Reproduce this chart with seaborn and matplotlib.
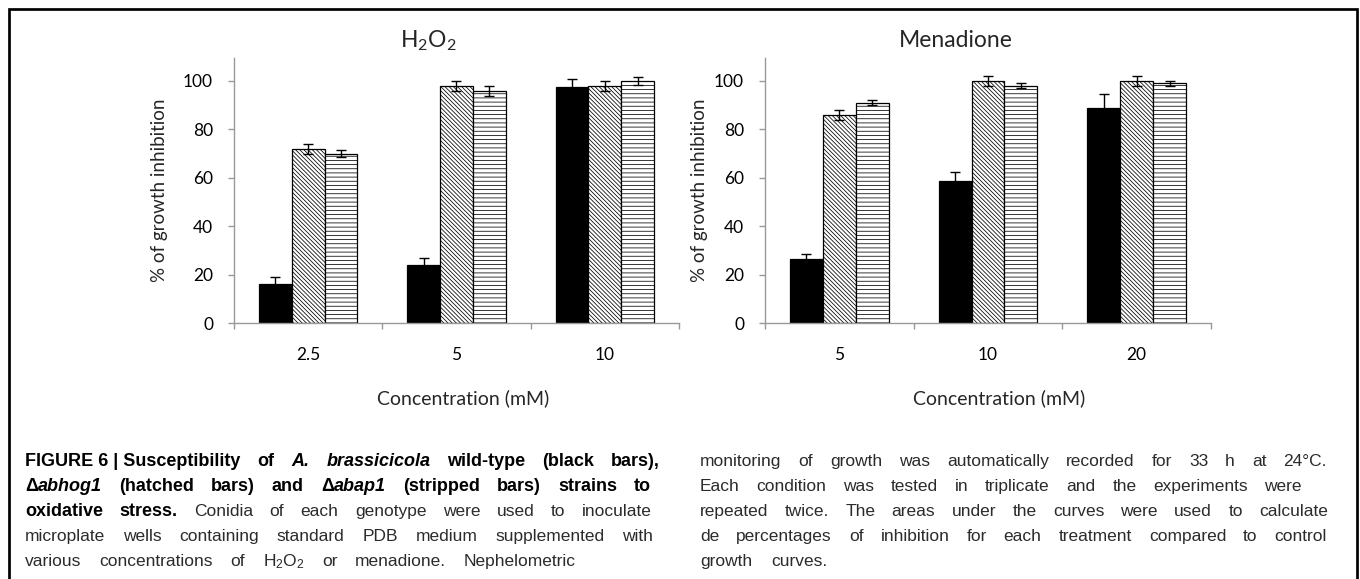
import numpy as np
import pandas as pd
import seaborn as sns
import matplotlib.pyplot as plt
from matplotlib.lines import Line2D

W, H = 1360, 579

strains = ["wild-type", "Δabhog1", "Δabap1"]

h2o2_conc = ["2.5", "5", "10"]
h2o2_wt = [16, 24, 97.5]
h2o2_hog1 = [72, 98, 98]
h2o2_bap1 = [70, 96, 100]
h2o2_wt_err = [3, 3, 3.3]
h2o2_hog1_err = [2, 2, 2]
h2o2_bap1_err = [1.3, 2, 1.5]

men_conc = ["5", "10", "20"]
men_wt = [26.6, 58.5, 89]
men_hog1 = [86, 100, 100]
men_bap1 = [91, 98, 99]
men_wt_err = [2, 4, 5.5]
men_hog1_err = [2, 2, 2]
men_bap1_err = [1, 1, 1]

caption_left = [
    [("FIGURE\u00a06\u00a0|\u00a0Susceptibility of ", "b"), ("A. brassicicola", "bi"),
     (" wild-type (black bars),", "b")],
    [("Δ", "b"), ("abhog1", "bi"), (" (hatched bars) and Δ", "b"), ("abap1", "bi"),
     (" (stripped bars) strains to", "b")],
    [("oxidative stress.", "b"), (" Conidia of each genotype were used to inoculate", "n")],
    [("microplate wells containing standard PDB medium supplemented with", "n")],
    [("various concentrations of H$_2$O$_2$ or menadione. Nephelometric", "n")],
]
caption_right = [
    [("monitoring of growth was automatically recorded for 33 h at 24°C.", "n")],
    [("Each condition was tested in triplicate and the experiments were", "n")],
    [("repeated twice. The areas under the curves were used to calculate", "n")],
    [("de percentages of inhibition for each treatment compared to control", "n")],
    [("growth curves.", "n")],
]
left_ends = [660, 651, 652, 653, 576]
right_ends = [1327, 1302, 1328, 1327, 828]

sns.set_theme(style="white")
plt.rcParams["font.family"] = ["Lato", "DejaVu Sans"]
plt.rcParams["mathtext.default"] = "regular"
plt.rcParams["hatch.linewidth"] = 0.55

GRAY = "#999999"
CAPTION_FONT = ["Liberation Sans", "DejaVu Sans"]
STYLES = {
    "b": dict(weight="bold", color="black", fontsize=13),
    "bi": dict(weight="bold", style="italic", color="black", fontsize=13),
    "n": dict(color="#2b2b2b", fontsize=12.5),
}


def px(x, y):
    return x / W, 1 - y / H


def panel(ax, conc, series, errs):
    rows = []
    for strain, vals in zip(strains, series):
        for c, v in zip(conc, vals):
            rows.append((c, strain, v))
    df = pd.DataFrame(rows, columns=["conc", "strain", "value"])

    sns.barplot(data=df, x="conc", y="value", hue="strain", order=conc,
                hue_order=strains, palette=["black", "white", "white"],
                saturation=1, width=0.665, edgecolor="black", linewidth=0.9,
                errorbar=None, legend=False, ax=ax)

    hatches = [None, "\\" * 8, "----"]
    for cont, hatch, vals, err in zip(ax.containers, hatches, series, errs):
        xs = []
        for bar in cont:
            if hatch:
                bar.set_hatch(hatch)
            xs.append(bar.get_x() + bar.get_width() / 2)
        ax.errorbar(xs, vals, yerr=err, fmt="none", ecolor="black",
                    elinewidth=1, capsize=3.8, capthick=1, zorder=5)

    ax.set_xlim(-0.5, 2.5)
    ax.set_ylim(0, 109.5)
    ax.set_yticks(range(0, 101, 20))
    ax.set_xticks([-0.5, 0.5, 1.5, 2.5], minor=True)
    ax.tick_params(axis="x", which="major", bottom=True, length=0, pad=17,
                   labelsize=12.5, labelcolor="black")
    ax.tick_params(axis="x", which="minor", bottom=True, length=4.3, width=1,
                   color=GRAY, direction="out")
    ax.tick_params(axis="y", left=True, length=4.3, width=1, color=GRAY,
                   direction="out", pad=10.8, labelsize=12.5, labelcolor="black")
    sns.despine(ax=ax)
    for s in ["left", "bottom"]:
        ax.spines[s].set_color(GRAY)
        ax.spines[s].set_linewidth(1)
    ax.set_xlabel("")
    ax.set_ylabel("")


fig = plt.figure(figsize=(W / 100, H / 100), dpi=100)
fig.patch.set_facecolor("white")

ax1 = fig.add_axes([234 / W, 1 - 323 / H, 445 / W, 265 / H])
ax2 = fig.add_axes([765 / W, 1 - 323 / H, 446 / W, 265 / H])

panel(ax1, h2o2_conc, [h2o2_wt, h2o2_hog1, h2o2_bap1],
      [h2o2_wt_err, h2o2_hog1_err, h2o2_bap1_err])
panel(ax2, men_conc, [men_wt, men_hog1, men_bap1],
      [men_wt_err, men_hog1_err, men_bap1_err])

fig.text(*px(428, 47), "H$_2$O$_2$", ha="center", va="baseline", fontsize=16.5)
fig.text(*px(956, 47), "Menadione", ha="center", va="baseline", fontsize=16.5)
for x in [463, 999]:
    fig.text(*px(x, 404), "Concentration (mM)", ha="center", va="baseline", fontsize=14)
for x in [160, 700]:
    fig.text(*px(x, 190), "% of growth inhibition", ha="center", va="center",
             rotation=90, fontsize=13.5)

# frame around the figure (open at the bottom)
fig.add_artist(Line2D([8.7 / W, 8.7 / W, 1356.7 / W, 1356.7 / W],
                      [-0.02, 1 - 8.7 / H, 1 - 8.7 / H, -0.02],
                      transform=fig.transFigure, color="black", lw=1.95,
                      solid_joinstyle="miter"))


def split_words(runs):
    words = [[]]
    for text, style in runs:
        parts = text.split(" ")
        for i, part in enumerate(parts):
            if i > 0:
                words.append([])
            if part:
                words[-1].append((part, style))
    return [w for w in words if w]


renderer = fig.canvas.get_renderer()


def draw_line(runs, x0, x1, y):
    words = split_words(runs)
    placed, widths = [], []
    for word in words:
        texts = []
        for text, style in word:
            t = fig.text(0, 0, text, family=CAPTION_FONT, **STYLES[style])
            texts.append((t, t.get_window_extent(renderer).width))
        placed.append(texts)
        widths.append(sum(w for _, w in texts))
    gap = (x1 - x0 - sum(widths)) / max(len(words) - 1, 1)
    x = x0
    for texts in placed:
        for t, w in texts:
            t.set_position(px(x, y))
            x += w
        x += gap


baselines = [466, 491, 516, 541, 566]
for runs, x1, y in zip(caption_left, left_ends, baselines):
    draw_line(runs, 25, x1, y)
for runs, x1, y in zip(caption_right, right_ends, baselines):
    draw_line(runs, 700, x1, y)

fig.savefig("out.png", dpi=100)
plt.close(fig)
